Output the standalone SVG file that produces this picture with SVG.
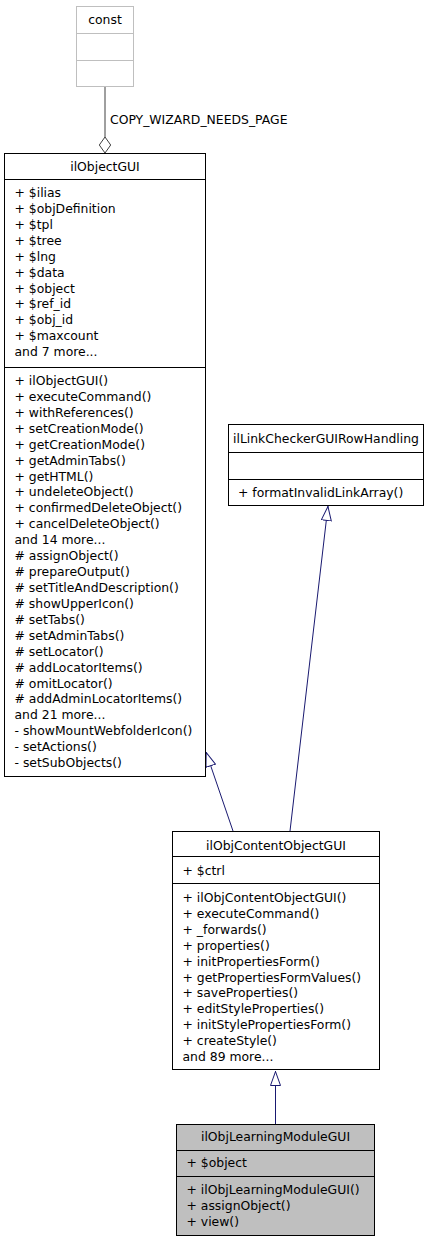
<svg xmlns="http://www.w3.org/2000/svg" width="443" height="1243" viewBox="0 0 443 1243">
<style>
  text { font-family: "DejaVu Sans", "Liberation Sans", sans-serif; font-size: 12.4px; fill: #000; }
  .c { text-anchor: middle; }
  .box { fill: #fff; stroke: #000; stroke-width: 1; }
  .cur { fill: #bfbfbf; stroke: #000; stroke-width: 1; }
  .gray { fill: #fff; stroke: #bfbfbf; stroke-width: 1; }
  .div { stroke: #000; stroke-width: 1; }
  .gdiv { stroke: #bfbfbf; stroke-width: 1; }
  .inh { fill: none; stroke: #191970; stroke-width: 1; marker-end: url(#tri); }
  .agg { fill: none; stroke: #404040; stroke-width: 1; marker-start: url(#dia); }
</style>
<defs>
  <marker id="tri" markerUnits="userSpaceOnUse" viewBox="0 0 15 11" refX="15" refY="5.5" markerWidth="15" markerHeight="11" orient="auto">
    <path d="M0.5,0.5 L14.5,5.5 L0.5,10.5 Z" fill="#fff" stroke="#191970" stroke-width="1"/>
  </marker>
  <marker id="dia" markerUnits="userSpaceOnUse" viewBox="0 0 17 13" refX="0.5" refY="6.5" markerWidth="17" markerHeight="13" orient="auto">
    <path d="M0.5,6.5 L8.5,0.8 L16.5,6.5 L8.5,12.2 Z" fill="#fff" stroke="#404040" stroke-width="1"/>
  </marker>
</defs>

<g id="connectors">
  <path class="agg" d="M105,153 L105,87"/>
  <text x="110" y="124">COPY_WIZARD_NEEDS_PAGE</text>
  <path class="inh" d="M233,831 L206,752"/>
  <path class="inh" d="M290,831 L328,506"/>
  <path class="inh" d="M275.5,1124 L275.5,1071"/>
</g>

<g id="const">
  <rect class="gray" x="76.5" y="6.5" width="57" height="80"/>
  <line class="gdiv" x1="76.5" y1="33.5" x2="133.5" y2="33.5"/>
  <line class="gdiv" x1="76.5" y1="60.5" x2="133.5" y2="60.5"/>
  <text class="c" x="105" y="24">const</text>
</g>

<g id="ilObjectGUI">
  <rect class="box" x="4.5" y="153.5" width="201" height="623"/>
  <line class="div" x1="4.5" y1="179.5" x2="205.5" y2="179.5"/>
  <line class="div" x1="4.5" y1="367.5" x2="205.5" y2="367.5"/>
  <text class="c" x="105" y="171">ilObjectGUI</text>
  <text x="14.5">
    <tspan x="14.5" y="197">+ $ilias</tspan>
    <tspan x="14.5" y="212.9">+ $objDefinition</tspan>
    <tspan x="14.5" y="228.8">+ $tpl</tspan>
    <tspan x="14.5" y="244.8">+ $tree</tspan>
    <tspan x="14.5" y="260.7">+ $lng</tspan>
    <tspan x="14.5" y="276.6">+ $data</tspan>
    <tspan x="14.5" y="292.5">+ $object</tspan>
    <tspan x="14.5" y="308.4">+ $ref_id</tspan>
    <tspan x="14.5" y="324.4">+ $obj_id</tspan>
    <tspan x="14.5" y="340.3">+ $maxcount</tspan>
    <tspan x="14.5" y="356.2">and 7 more...</tspan>
  </text>
  <text x="14.5">
    <tspan x="14.5" y="385">+ ilObjectGUI()</tspan>
    <tspan x="14.5" y="400.9">+ executeCommand()</tspan>
    <tspan x="14.5" y="416.8">+ withReferences()</tspan>
    <tspan x="14.5" y="432.8">+ setCreationMode()</tspan>
    <tspan x="14.5" y="448.7">+ getCreationMode()</tspan>
    <tspan x="14.5" y="464.6">+ getAdminTabs()</tspan>
    <tspan x="14.5" y="480.5">+ getHTML()</tspan>
    <tspan x="14.5" y="496.4">+ undeleteObject()</tspan>
    <tspan x="14.5" y="512.4">+ confirmedDeleteObject()</tspan>
    <tspan x="14.5" y="528.3">+ cancelDeleteObject()</tspan>
    <tspan x="14.5" y="544.2">and 14 more...</tspan>
    <tspan x="14.5" y="560.1"># assignObject()</tspan>
    <tspan x="14.5" y="576.0"># prepareOutput()</tspan>
    <tspan x="14.5" y="592.0"># setTitleAndDescription()</tspan>
    <tspan x="14.5" y="607.9"># showUpperIcon()</tspan>
    <tspan x="14.5" y="623.8"># setTabs()</tspan>
    <tspan x="14.5" y="639.7"># setAdminTabs()</tspan>
    <tspan x="14.5" y="655.6"># setLocator()</tspan>
    <tspan x="14.5" y="671.6"># addLocatorItems()</tspan>
    <tspan x="14.5" y="687.5"># omitLocator()</tspan>
    <tspan x="14.5" y="703.4"># addAdminLocatorItems()</tspan>
    <tspan x="14.5" y="719.3">and 21 more...</tspan>
    <tspan x="14.5" y="735.2">- showMountWebfolderIcon()</tspan>
    <tspan x="14.5" y="751.2">- setActions()</tspan>
    <tspan x="14.5" y="767.1">- setSubObjects()</tspan>
  </text>
</g>

<g id="ilLinkCheckerGUIRowHandling">
  <rect class="box" x="228.5" y="424.5" width="195" height="81"/>
  <line class="div" x1="228.5" y1="452.5" x2="423.5" y2="452.5"/>
  <line class="div" x1="228.5" y1="479.5" x2="423.5" y2="479.5"/>
  <text class="c" x="326" y="443">ilLinkCheckerGUIRowHandling</text>
  <text x="238" y="497">+ formatInvalidLinkArray()</text>
</g>

<g id="ilObjContentObjectGUI">
  <rect class="box" x="172.5" y="831.5" width="207" height="238"/>
  <line class="div" x1="172.5" y1="856.5" x2="379.5" y2="856.5"/>
  <line class="div" x1="172.5" y1="883.5" x2="379.5" y2="883.5"/>
  <text class="c" x="276" y="850">ilObjContentObjectGUI</text>
  <text x="182.5" y="875">+ $ctrl</text>
  <text x="182.5">
    <tspan x="182.5" y="902">+ ilObjContentObjectGUI()</tspan>
    <tspan x="182.5" y="917.9">+ executeCommand()</tspan>
    <tspan x="182.5" y="933.8">+ _forwards()</tspan>
    <tspan x="182.5" y="949.7">+ properties()</tspan>
    <tspan x="182.5" y="965.6">+ initPropertiesForm()</tspan>
    <tspan x="182.5" y="981.5">+ getPropertiesFormValues()</tspan>
    <tspan x="182.5" y="997.4">+ saveProperties()</tspan>
    <tspan x="182.5" y="1013.3">+ editStyleProperties()</tspan>
    <tspan x="182.5" y="1029.2">+ initStylePropertiesForm()</tspan>
    <tspan x="182.5" y="1045.1">+ createStyle()</tspan>
    <tspan x="182.5" y="1061">and 89 more...</tspan>
  </text>
</g>

<g id="ilObjLearningModuleGUI">
  <rect class="cur" x="176.5" y="1124.5" width="198" height="111"/>
  <line class="div" x1="176.5" y1="1150.5" x2="374.5" y2="1150.5"/>
  <line class="div" x1="176.5" y1="1176.5" x2="374.5" y2="1176.5"/>
  <text class="c" x="275.5" y="1141">ilObjLearningModuleGUI</text>
  <text x="186.5" y="1167">+ $object</text>
  <text x="186.5">
    <tspan x="186.5" y="1194">+ ilObjLearningModuleGUI()</tspan>
    <tspan x="186.5" y="1210">+ assignObject()</tspan>
    <tspan x="186.5" y="1226">+ view()</tspan>
  </text>
</g>
</svg>
